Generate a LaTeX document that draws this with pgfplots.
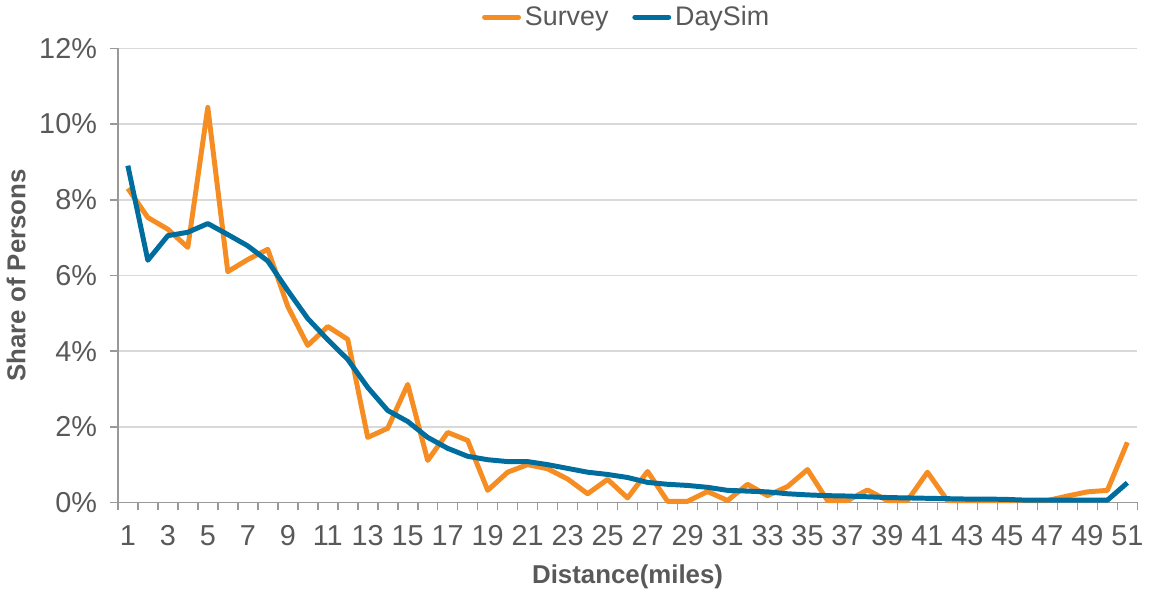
\documentclass[border=0pt]{standalone}
\usepackage{pgfplots}
\pgfplotsset{compat=1.18}
\usepackage{fontspec}
\setmainfont{Liberation Sans}
\definecolor{survey}{HTML}{F68D22}
\definecolor{daysim}{HTML}{006D9F}
\definecolor{txt}{HTML}{595959}
\begin{document}
\begin{tikzpicture}
\begin{axis}[
  scale only axis,
  width=513pt, height=228.5pt,
  xmin=0.5, xmax=51.5, ymin=0, ymax=12,
  axis lines=left,
  axis line style={-, draw=gray!80, line width=0.8pt},
  xtick={1,3,...,51},
  minor xtick={0.5,1.5,...,51.5},
  major x tick style={draw=none},
  minor x tick style={draw=gray!80, line width=0.8pt},
  minor tick length=4pt,
  ytick={0,2,...,12},
  major y tick style={draw=gray!80, line width=0.8pt},
  major tick length=4pt,
  tick align=outside,
  yticklabel={\pgfmathprintnumber{\tick}\%},
  /pgf/number format/assume math mode=true,
  ticklabel style={font=\fontsize{14.5}{16}\selectfont, text=txt},
  yticklabel style={xshift=-3pt},
  xticklabel style={yshift=-4pt},
  ymajorgrids,
  grid style={draw=gray!30, line width=0.8pt},
  xlabel={\textbf{Distance(miles)}},
  ylabel={\textbf{Share of Persons}},
  label style={font=\fontsize{13}{15}\selectfont, text=txt},
  ylabel style={yshift=0pt},
  xlabel style={yshift=-2.5pt},
  legend style={at={(0.5,1.03)}, anchor=south, draw=none, legend columns=2,
    font=\fontsize{13.5}{15}\selectfont, text=txt, inner sep=1pt,
    /tikz/every even column/.append style={column sep=10pt}},
  legend image code/.code={\draw[#1, line width=2.5pt, line cap=round] (0pt,0pt) -- (0.6cm,0pt);},
  every axis plot/.append style={line width=2.5pt, line join=round},
  clip=false,
]
\addplot[survey, mark=none] coordinates {
(1,8.3)(2,7.53)(3,7.22)(4,6.74)(5,10.44)(6,6.1)(7,6.42)(8,6.69)(9,5.18)(10,4.15)
(11,4.65)(12,4.31)(13,1.72)(14,1.96)(15,3.12)(16,1.11)(17,1.85)(18,1.64)(19,0.32)(20,0.8)
(21,1.0)(22,0.89)(23,0.62)(24,0.23)(25,0.61)(26,0.12)(27,0.82)(28,0.03)(29,0.03)(30,0.29)
(31,0.05)(32,0.48)(33,0.18)(34,0.42)(35,0.87)(36,0.05)(37,0.05)(38,0.33)(39,0.05)(40,0.05)
(41,0.8)(42,0.05)(43,0.05)(44,0.05)(45,0.05)(46,0.05)(47,0.05)(48,0.17)(49,0.28)(50,0.32)
(51,1.59)};
\addlegendentry{Survey}
\addplot[daysim, mark=none] coordinates {
(1,8.9)(2,6.4)(3,7.05)(4,7.14)(5,7.37)(6,7.08)(7,6.78)(8,6.38)(9,5.6)(10,4.86)
(11,4.3)(12,3.78)(13,3.04)(14,2.43)(15,2.14)(16,1.72)(17,1.43)(18,1.22)(19,1.13)(20,1.08)
(21,1.08)(22,1.0)(23,0.9)(24,0.8)(25,0.74)(26,0.66)(27,0.53)(28,0.48)(29,0.45)(30,0.4)
(31,0.32)(32,0.3)(33,0.28)(34,0.23)(35,0.2)(36,0.18)(37,0.17)(38,0.15)(39,0.13)(40,0.12)
(41,0.11)(42,0.1)(43,0.09)(44,0.09)(45,0.08)(46,0.06)(47,0.06)(48,0.06)(49,0.06)(50,0.06)
(51,0.52)};
\addlegendentry{DaySim}
\end{axis}
\end{tikzpicture}
\end{document}
